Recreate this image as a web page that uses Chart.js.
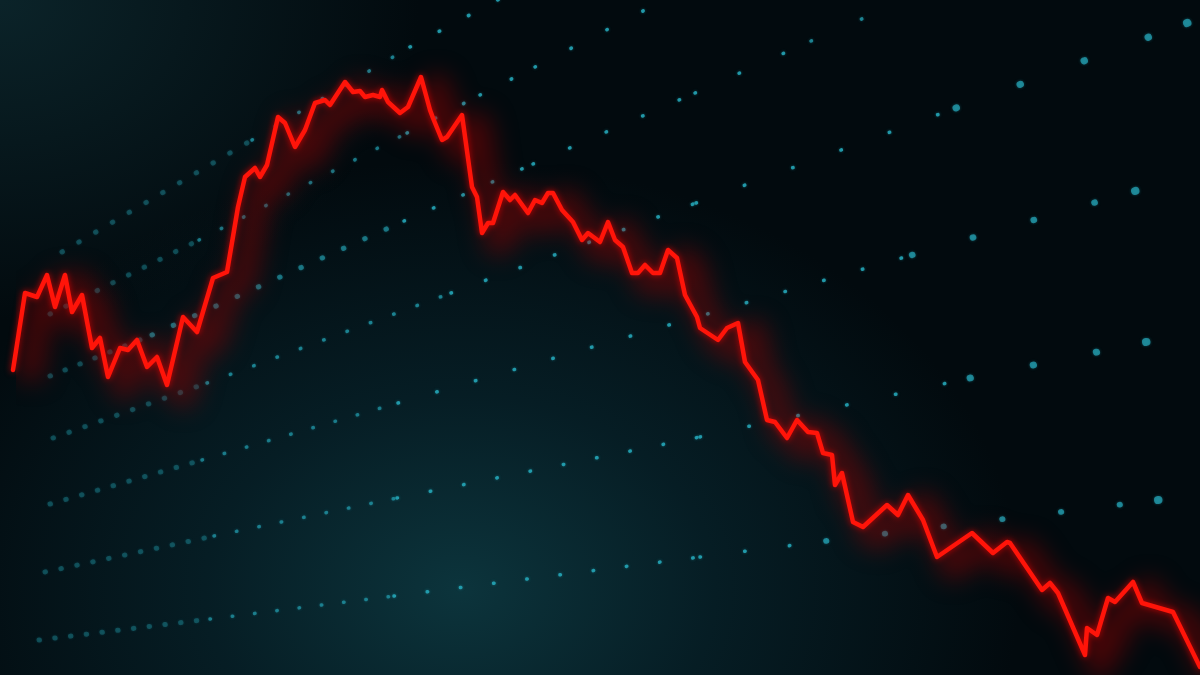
<!DOCTYPE html>
<html>
<head>
<meta charset="utf-8">
<script src="https://cdn.jsdelivr.net/npm/chart.js@4.4.0/dist/chart.umd.min.js"></script>
<style>
  html, body { margin: 0; padding: 0; background: #020a0e; }
  #wrap {
    width: 1200px; height: 675px; position: relative; overflow: hidden;
    background:
      radial-gradient(ellipse 560px 430px at 460px 590px, rgba(12,52,60,1) 0%, rgba(7,34,42,0.8) 45%, rgba(2,12,16,0) 100%),
      radial-gradient(ellipse 420px 320px at 0px 0px, rgba(12,38,44,0.9) 0%, rgba(2,12,16,0) 100%),
      #020a0e;
  }
</style>
</head>
<body>
<div id="wrap"><canvas id="chart"></canvas></div>
<script>
// price track (time along x, price on y)
const times = [13, 25, 37, 47, 55, 65, 72, 82, 92, 100, 108, 120, 128, 137, 147, 157, 167, 183, 197, 213,
  227, 238, 245, 255, 260, 267, 278, 285, 295, 305, 315, 325, 330, 345, 353, 360, 365, 373, 380, 382,
  388, 400, 408, 421, 430, 433, 442, 447, 462, 472, 477, 482, 488, 493, 503, 510, 515, 528, 535, 542,
  548, 553, 562, 573, 582, 588, 600, 608, 615, 623, 632, 638, 645, 653, 660, 668, 677, 685, 697, 700,
  718, 727, 738, 745, 758, 767, 775, 787, 797, 808, 817, 823, 832, 835, 842, 853, 863, 887, 898, 908,
  923, 937, 972, 993, 1007, 1010, 1042, 1050, 1058, 1085, 1087, 1097, 1108, 1115, 1133, 1142, 1173, 1200];
const prices = [61.0, 76.4, 75.6, 80.0, 73.6, 80.0, 72.6, 76.0, 65.4, 67.4, 59.6, 65.4, 65.0, 67.0, 61.6, 63.6, 58.0, 71.6, 68.6, 79.4,
  80.6, 93.6, 99.6, 101.4, 99.6, 102.0, 111.6, 110.4, 105.6, 109.0, 114.4, 115.0, 114.0, 118.6, 116.6, 116.8, 115.6, 116.0, 115.6, 117.0,
  114.6, 112.4, 113.6, 119.6, 113.0, 111.4, 107.0, 107.6, 112.0, 97.6, 95.6, 88.4, 90.4, 90.4, 96.6, 95.0, 96.0, 92.4, 95.0, 94.4,
  96.4, 96.4, 93.0, 90.6, 87.0, 88.4, 86.6, 90.6, 87.0, 85.6, 80.4, 80.4, 82.0, 80.4, 80.4, 85.0, 83.4, 76.0, 71.6, 69.4,
  67.0, 69.4, 70.4, 62.6, 59.0, 51.0, 50.6, 47.4, 51.0, 48.6, 48.4, 44.4, 44.0, 38.0, 40.4, 30.6, 29.6, 34.0, 32.0, 36.0,
  31.0, 23.6, 28.4, 24.4, 26.6, 26.4, 17.0, 18.4, 16.4, 4.0, 9.4, 8.0, 15.4, 14.6, 18.6, 14.4, 12.6, 1.6];

// dotted perspective guide lines, [time, price] points
const rayA = [[62, 84.6], [252, 107.0], [410, 125.6], [520, 137.4]];
const rayB = [[50, 72.2], [199, 87.0], [407, 108.4], [480, 116.0], [535, 121.6], [670, 135.6]];
const rayC = [[50, 59.8], [152, 68.0], [404, 90.8], [533, 102.2], [695, 116.4], [811, 126.8], [910, 135.4]];
const rayD = [[53, 47.4], [207, 58.4], [451, 76.4], [696, 94.4], [956, 113.4], [1187, 130.4], [1200, 131.4]];
const rayE = [[50, 34.2], [202, 43.0], [398, 54.4], [912, 84.0], [1135, 96.8], [1200, 100.4]];
const rayF = [[45, 20.6], [214, 27.8], [397, 35.4], [700, 47.6], [970, 59.4], [1146, 66.6], [1200, 68.4]];
const rayG = [[39, 7.0], [210, 11.2], [394, 15.8], [700, 23.6], [826, 26.8], [1158, 35.0], [1200, 35.8]];
const rays = [rayA, rayB, rayC, rayD, rayE, rayF, rayG];

const pricePoints = times.map((t, i) => ({ x: t, y: prices[i] }));

// dots spread out as the plane comes closer (right side)
function mid(c) { return (c.p0.x + c.p1.x) / 2; }
function dotGap(c) {
  const dx = c.p1.x - c.p0.x, dy = c.p1.y - c.p0.y;
  const stretch = Math.sqrt(dx * dx + dy * dy) / Math.max(Math.abs(dx), 1);
  return 12.5 * Math.pow((mid(c) + 784) / 823, 2) * stretch;
}
function dotSize(c) {
  const xm = mid(c);
  if (xm < 300) return 5;
  if (xm < 860) return 3.5;
  return 3.5 + Math.min(4.5, (xm - 860) / 60);
}
function dotColor(c) {
  const xm = mid(c);
  let a = 0.85;
  if (xm < 150) a = 0.32;
  else if (xm < 420) a = 0.32 + (xm - 150) / 270 * 0.53;
  else if (xm > 860) a = 0.7;
  return 'rgba(38,170,188,' + a.toFixed(2) + ')';
}

const glow = {
  id: 'glow',
  beforeDatasetDraw(chart, args) {
    const ds = chart.data.datasets[args.index];
    const ctx = chart.ctx;
    ctx.save();
    if (ds.blur) ctx.filter = 'blur(' + ds.blur + 'px)';
    if (ds.shift) ctx.translate(ds.shift[0], ds.shift[1]);
    if (ds.glowColor) { ctx.shadowColor = ds.glowColor; ctx.shadowBlur = ds.glowSize; }
  },
  afterDatasetDraw(chart) { chart.ctx.restore(); }
};

const raySets = rays.map(r => ({
  data: r.map(p => ({ x: p[0], y: p[1] })),
  borderColor: 'rgba(38,170,188,0.8)',
  borderWidth: 3,
  borderCapStyle: 'round',
  pointRadius: 0,
  fill: false,
  order: 3,
  glowColor: 'rgba(40,180,200,0.5)',
  glowSize: 3,
  segment: {
    borderDash: c => [0.5, dotGap(c)],
    borderWidth: c => dotSize(c),
    borderColor: c => dotColor(c)
  }
}));

new Chart(document.getElementById('chart'), {
  type: 'line',
  data: {
    datasets: [
      {
        // bright line
        data: pricePoints,
        borderColor: '#ff1409',
        borderWidth: 4.5,
        borderJoinStyle: 'round',
        borderCapStyle: 'round',
        pointRadius: 0,
        order: 0,
        glowColor: 'rgba(255,0,0,0.7)',
        glowSize: 6
      },
      {
        // blurred red haze behind it
        data: pricePoints,
        borderColor: 'rgba(150,0,0,0.45)',
        borderWidth: 26,
        borderJoinStyle: 'round',
        pointRadius: 0,
        order: 1,
        blur: 12,
        shift: [16, 10]
      },
      ...raySets
    ]
  },
  options: {
    responsive: true,
    maintainAspectRatio: false,
    animation: false,
    layout: { padding: 0 },
    plugins: { legend: { display: false }, tooltip: { enabled: false } },
    elements: { point: { radius: 0 } },
    scales: {
      x: { type: 'linear', min: 0, max: 1200, display: false },
      y: { min: 0, max: 135, display: false }
    }
  },
  plugins: [glow]
});
</script>
</body>
</html>
